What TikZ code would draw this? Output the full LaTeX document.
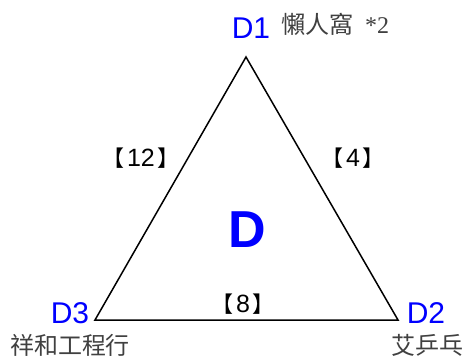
\documentclass[tikz,border=0pt]{standalone}
\usepackage{fontspec}
\setmainfont{Liberation Sans}
\newfontfamily\cjk{Noto Sans CJK TC}
\definecolor{lblblue}{RGB}{0,0,255}
\definecolor{namegray}{RGB}{64,64,64}
\newcommand{\lbr}{{\cjk\fontsize{22}{22}\selectfont 【}\hspace{0.12em}}
\newcommand{\rbr}{\hspace{0.12em}{\cjk\fontsize{22}{22}\selectfont 】}}
\tikzset{
  vlabel/.style={text=lblblue, font=\fontsize{30}{30}\selectfont, inner sep=0pt, anchor=center},
  nlabel/.style={text=namegray, font=\cjk\fontsize{24}{24}\selectfont, inner sep=0pt, anchor=center},
  elabel/.style={text=black, font=\fontsize{25}{25}\selectfont, inner sep=0pt, anchor=center},
  edge/.style={draw=black, line width=1.5pt, line join=miter}
}
\begin{document}
\begin{tikzpicture}[x=1pt,y=-1pt]
\useasboundingbox (0,0) rectangle (466,358);
\coordinate (T) at (246,57);
\coordinate (L) at (95,320);
\coordinate (R) at (398,320);
\draw[edge] (T) -- (R) -- (L) -- cycle;
\node[vlabel] (d1) at (251,28) {D1};
\node[nlabel] (n1) at (335,24) {懶人窩\hspace{0.5em}{\fontspec{Liberation Serif}*2}};
\node[vlabel] (d3) at (70,313) {D3};
\node[nlabel] (n3) at (70,345) {祥和工程行};
\node[vlabel] (d2) at (426,313) {D2};
\node[nlabel] (n2) at (427,345) {艾乒乓};
\node[elabel] (e12) at (141,158) {\lbr 12\rbr};
\node[elabel] (e4) at (353,158) {\lbr 4\rbr};
\node[elabel] (e8) at (243,304) {\lbr 8\rbr};
\node[text=lblblue, font=\bfseries\fontsize{52}{52}\selectfont, inner sep=0pt] (dc) at (247,230) {D};
\end{tikzpicture}
\end{document}
